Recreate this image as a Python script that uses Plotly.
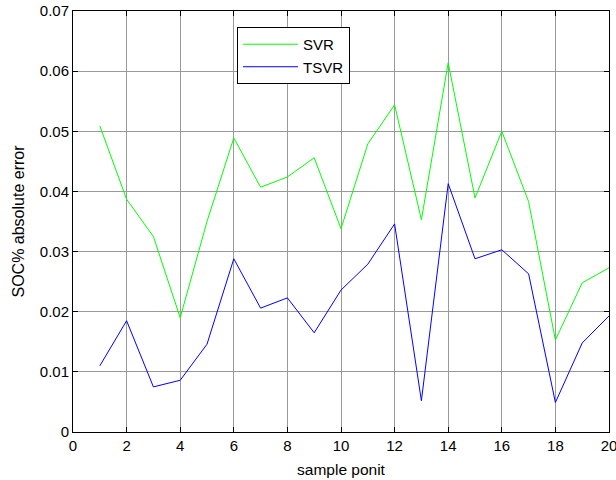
import plotly.graph_objects as go

x_points = list(range(1, 21))
svr = [0.0509, 0.0387, 0.0325, 0.0190, 0.0350, 0.0489, 0.0407, 0.0424, 0.0456, 0.0338,
       0.0479, 0.0544, 0.0353, 0.0614, 0.0389, 0.0500, 0.0383, 0.0153, 0.0248, 0.0273]
tsvr = [0.0110, 0.0185, 0.0075, 0.0086, 0.0146, 0.0288, 0.0206, 0.0223, 0.0165, 0.0236,
        0.0279, 0.0346, 0.0052, 0.0413, 0.0288, 0.0303, 0.0263, 0.0049, 0.0148, 0.0193]
x_ticks = list(range(0, 21, 2))
y_ticks = [0, 0.01, 0.02, 0.03, 0.04, 0.05, 0.06, 0.07]
y_tick_labels = ["0", "0.01", "0.02", "0.03", "0.04", "0.05", "0.06", "0.07"]

FONT = "Liberation Sans, Arial"

axis_common = dict(showline=True, linecolor="black", linewidth=1, mirror="ticks",
                   ticks="inside", ticklen=5, tickcolor="black", showgrid=True,
                   gridcolor="#9a9a9a", gridwidth=1, zeroline=False, automargin=False,
                   ticklabeloverflow="allow",
                   tickfont=dict(family=FONT, size=15, color="black"))

fig = go.Figure()
fig.add_trace(go.Scatter(x=x_points, y=svr, mode="lines", name="SVR",
                         line=dict(color="#00ff00", width=1)))
fig.add_trace(go.Scatter(x=x_points, y=tsvr, mode="lines", name="TSVR",
                         line=dict(color="#0000ff", width=1)))

fig.update_xaxes(range=[0, 20], tickvals=x_ticks, **axis_common,
                 title=dict(text="sample ponit", standoff=11,
                            font=dict(family=FONT, size=15.5, color="black")))
fig.update_yaxes(range=[0, 0.07], tickvals=y_ticks, ticktext=y_tick_labels, **axis_common,
                 title=dict(text="SOC% absolute error", standoff=11,
                            font=dict(family=FONT, size=16, color="black")))

fig.update_layout(
    width=616, height=480,
    margin=dict(l=73, r=7, t=11, b=48),
    paper_bgcolor="white", plot_bgcolor="white",
    showlegend=True,
    legend=dict(x=0.306, y=0.962, xanchor="left", yanchor="top",
                bordercolor="black", borderwidth=1, bgcolor="white",
                font=dict(family=FONT, size=15, color="black"),
                tracegroupgap=0, itemwidth=55),
)

fig.write_html("out.html", config={"displayModeBar": False},
               post_script="document.body.style.margin='0';")
